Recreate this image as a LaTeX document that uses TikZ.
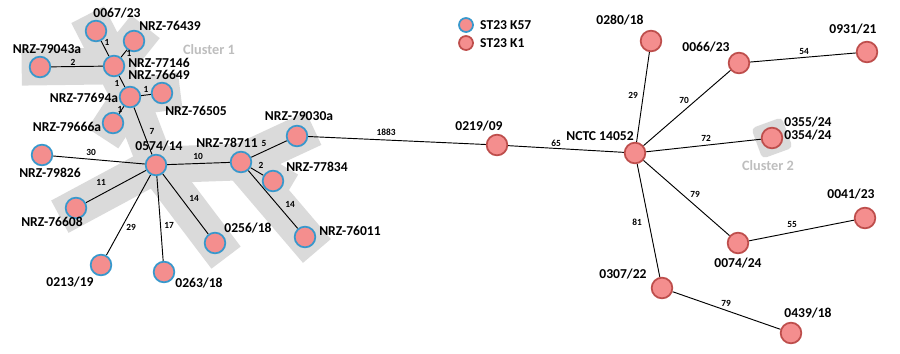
\documentclass[tikz,border=0pt]{standalone}
\usepackage{fontspec}
\setmainfont{Carlito}
\usetikzlibrary{backgrounds}
\definecolor{isofill}{RGB}{244,142,142}
\definecolor{kblue}{RGB}{56,152,204}
\definecolor{kred}{RGB}{190,78,76}
\definecolor{bandgray}{RGB}{218,218,218}
\definecolor{clustergray}{RGB}{190,190,190}
\tikzstyle{kfiftyseven} = [circle, inner sep=0pt, minimum size=0.62cm, line width=1.5pt, draw=kblue, fill=isofill]
\tikzstyle{kone} = [kfiftyseven, draw=kred]
\tikzstyle{isolabel} = [font=\fontsize{11.6}{12}\selectfont\bfseries, inner sep=0pt]
\tikzstyle{dist} = [font=\fontsize{8}{9}\selectfont\bfseries, inner sep=0pt]
\tikzstyle{link} = [line width=0.8pt, black]
\tikzstyle{band} = [line width=1.1cm, draw=bandgray, line cap=rect, line join=round]

\begin{document}
\begin{tikzpicture}[x=0.03cm, y=-0.03cm]
        \useasboundingbox (0,0) rectangle (900,353);

        % isolates, ST23 K57
        \node (i0067) [kfiftyseven] at (96,31) {};
        \node (nrz76439) [kfiftyseven] at (134,41) {};
        \node (nrz79043a) [kfiftyseven] at (40,67) {};
        \node (nrz77146) [kfiftyseven] at (114,66) {};
        \node (nrz77694a) [kfiftyseven] at (130,97) {};
        \node (nrz76505) [kfiftyseven] at (162,93) {};
        \node (nrz79666a) [kfiftyseven] at (113,123) {};
        \node (i0574) [kfiftyseven] at (156,165) {};
        \node (nrz79826) [kfiftyseven] at (42,155) {};
        \node (nrz76608) [kfiftyseven] at (76,208) {};
        \node (i0213) [kfiftyseven] at (101,265) {};
        \node (i0263) [kfiftyseven] at (164,272) {};
        \node (i0256) [kfiftyseven] at (215,243) {};
        \node (nrz78711) [kfiftyseven] at (241,162) {};
        \node (nrz77834) [kfiftyseven] at (273,181) {};
        \node (nrz76011) [kfiftyseven] at (305,237) {};
        \node (nrz79030a) [kfiftyseven] at (297,136) {};

        % isolates, ST23 K1
        \node (i0219) [kone] at (497,145) {};
        \node (nctc) [kone] at (635,153) {};
        \node (i0280) [kone] at (651,41) {};
        \node (i0066) [kone] at (739,63) {};
        \node (i0931) [kone] at (867,52) {};
        \node (i0355) [kone] at (772,138) {};
        \node (i0074) [kone] at (738,243) {};
        \node (i0041) [kone] at (865,218) {};
        \node (i0307) [kone] at (662,288) {};
        \node (i0439) [kone] at (791,333) {};

        % legend
        \node (keyA) [kfiftyseven, minimum size=0.42cm] at (466,25) {};
        \node (keyB) [kone, minimum size=0.42cm] at (466,43) {};
        \node (keyAtext) [isolabel, anchor=west] at (480,25) {ST23 K57};
        \node (keyBtext) [isolabel, anchor=west] at (480,43) {ST23 K1};

        % isolate names
        \node (t0067) [isolabel] at (117,13) {0067/23};
        \node (t76439) [isolabel] at (170,26) {NRZ-76439};
        \node (t79043a) [isolabel] at (47,49) {NRZ-79043a};
        \node (t77146) [isolabel] at (159,63) {NRZ-77146};
        \node (t76649) [isolabel] at (159,75) {NRZ-76649};
        \node (t77694a) [isolabel] at (84,98) {NRZ-77694a};
        \node (t76505) [isolabel] at (196,111) {NRZ-76505};
        \node (t79666a) [isolabel] at (67,127) {NRZ-79666a};
        \node (t0574) [isolabel] at (159,146) {0574/14};
        \node (t79826) [isolabel] at (50,173) {NRZ-79826};
        \node (t76608) [isolabel] at (52,222) {NRZ-76608};
        \node (t0213) [isolabel] at (70,282) {0213/19};
        \node (t0263) [isolabel] at (199,283) {0263/18};
        \node (t0256) [isolabel] at (248,228) {0256/18};
        \node (t78711) [isolabel] at (227,143) {NRZ-78711};
        \node (t77834) [isolabel] at (317,167) {NRZ-77834};
        \node (t76011) [isolabel] at (350,231) {NRZ-76011};
        \node (t79030a) [isolabel] at (299,116) {NRZ-79030a};
        \node (t0219) [isolabel] at (479,126) {0219/09};
        \node (tnctc) [isolabel] at (600,136) {NCTC 14052};
        \node (t0280) [isolabel] at (620,20) {0280/18};
        \node (t0066) [isolabel] at (706,47) {0066/23};
        \node (t0931) [isolabel] at (853,29) {0931/21};
        \node (t0355) [isolabel] at (808,122) {0355/24};
        \node (t0354) [isolabel] at (808,135) {0354/24};
        \node (t0074) [isolabel] at (738,263) {0074/24};
        \node (t0041) [isolabel] at (851,194) {0041/23};
        \node (t0307) [isolabel] at (623,274) {0307/22};
        \node (t0439) [isolabel] at (808,313) {0439/18};

        % clusters
        \node (cl1) [isolabel, text=clustergray, font=\fontsize{12.2}{13}\selectfont\bfseries] at (209,50) {Cluster 1};
        \node (cl2) [isolabel, text=clustergray, font=\fontsize{12.2}{13}\selectfont\bfseries] at (768,166) {Cluster 2};

        % distances
        \node (d1a) [dist] at (107,42) {1};
        \node (d1b) [dist] at (129,53) {1};
        \node (d2a) [dist] at (73,62) {2};
        \node (d1c) [dist] at (117,83) {1};
        \node (d1d) [dist] at (146,89) {1};
        \node (d1e) [dist] at (120,109) {1};
        \node (d7) [dist] at (152,131) {7};
        \node (d30) [dist] at (91,152) {30};
        \node (d11) [dist] at (101,182) {11};
        \node (d10) [dist] at (198,156) {10};
        \node (d14a) [dist] at (194,198) {14};
        \node (d29a) [dist] at (131,227) {29};
        \node (d17) [dist] at (169,225) {17};
        \node (d14b) [dist] at (290,204) {14};
        \node (d5) [dist] at (264,143) {5};
        \node (d2b) [dist] at (261,165) {2};
        \node (d1883) [dist] at (386,132) {1883};
        \node (d65) [dist] at (556,143) {65};
        \node (d29b) [dist] at (633,95) {29};
        \node (d70) [dist] at (684,100) {70};
        \node (d72) [dist] at (706,138) {72};
        \node (d54) [dist] at (804,51) {54};
        \node (d79a) [dist] at (695,194) {79};
        \node (d81) [dist] at (637,222) {81};
        \node (d55) [dist] at (792,224) {55};
        \node (d79b) [dist] at (726,303) {79};

        \begin{scope}[on background layer]
            % cluster shading
            \draw [band] (nrz79043a.center) -- (nrz77146.center) -- (nrz77694a.center) -- (i0574.center) -- (i0256.center);
            \draw [band] (i0067.center) -- (nrz77146.center) -- (nrz76439.center);
            \draw [band] (nrz76505.center) -- (nrz77694a.center) -- (nrz79666a.center);
            \draw [band] (nrz76608.center) -- (i0574.center) -- (nrz78711.center) -- (nrz79030a.center);
            \draw [band] (nrz77834.center) -- (nrz78711.center) -- (nrz76011.center);
            \draw [fill=bandgray, draw=bandgray, line width=2pt, rounded corners=3pt, rotate around={20:(i0355.center)}] ([shift={(-15,-15)}]i0355.center) rectangle ([shift={(15,15)}]i0355.center);

            % links
            \draw [link] (i0067) -- (nrz77146);
            \draw [link] (nrz76439) -- (nrz77146);
            \draw [link] (nrz79043a) -- (nrz77146);
            \draw [link] (nrz77146) -- (nrz77694a);
            \draw [link] (nrz77694a) -- (nrz76505);
            \draw [link] (nrz77694a) -- (nrz79666a);
            \draw [link] (nrz77694a) -- (i0574);
            \draw [link] (nrz79826) -- (i0574);
            \draw [link] (nrz76608) -- (i0574);
            \draw [link] (i0213) -- (i0574);
            \draw [link] (i0263) -- (i0574);
            \draw [link] (i0256) -- (i0574);
            \draw [link] (i0574) -- (nrz78711);
            \draw [link] (nrz78711) -- (nrz79030a);
            \draw [link] (nrz78711) -- (nrz77834);
            \draw [link] (nrz78711) -- (nrz76011);
            \draw [link] (nrz79030a) -- (i0219);
            \draw [link] (i0219) -- (nctc);
            \draw [link] (nctc) -- (i0280);
            \draw [link] (nctc) -- (i0066);
            \draw [link] (i0066) -- (i0931);
            \draw [link] (nctc) -- (i0355);
            \draw [link] (nctc) -- (i0074);
            \draw [link] (i0074) -- (i0041);
            \draw [link] (nctc) -- (i0307);
            \draw [link] (i0307) -- (i0439);
        \end{scope}
    \end{tikzpicture}
\end{document}
